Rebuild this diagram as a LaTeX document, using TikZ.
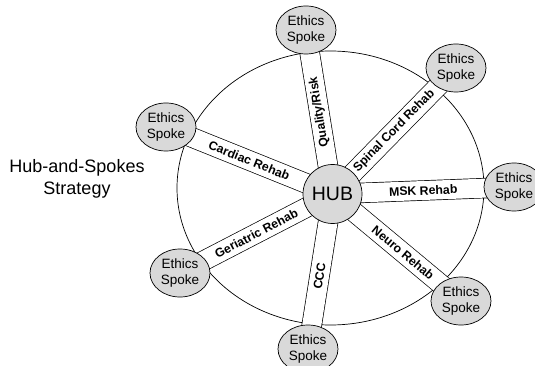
\documentclass[tikz,border=0pt]{standalone}
\usepackage{fontspec}
\setmainfont{Liberation Sans}
\usetikzlibrary{shapes.geometric,backgrounds}
\tikzset{
  spoke/.style={ellipse, draw, line width=0.7pt, fill=gray!30, minimum width=60pt, minimum height=48pt, inner sep=0pt, align=center, font=\fontsize{13.5}{16.5}\selectfont},
  hubnode/.style={circle, draw, line width=0.7pt, fill=gray!30, minimum size=59pt, inner sep=0pt, font=\fontsize{19.5}{22}\selectfont},
  band/.style={line width=0.7pt, double=white, double distance=19pt},
  bandlabel/.style={sloped, allow upside down, pos=0.5, inner sep=0pt, font=\fontsize{12.3}{13}\selectfont\bfseries},
  title/.style={align=center, font=\fontsize{18}{21.5}\selectfont}
}
\begin{document}
\begin{tikzpicture}[x=1pt,y=-1pt]
\useasboundingbox (0,0) rectangle (535,366);
\node[hubnode] (hub) at (332.5,194) {HUB};
\node[spoke] (s1) at (306,30) {Ethics\\Spoke};
\node[spoke] (s2) at (456,68) {Ethics\\Spoke};
\node[spoke] (s3) at (166,127) {Ethics\\Spoke};
\node[spoke] (s4) at (514,187) {Ethics\\Spoke};
\node[spoke] (s5) at (180,273) {Ethics\\Spoke};
\node[spoke] (s6) at (461,301) {Ethics\\Spoke};
\node[spoke] (s7) at (308,349) {Ethics\\Spoke};
\node[title] (t) at (77,179) {Hub-and-Spokes\\Strategy};
\begin{scope}[on background layer]
  \draw[line width=0.7pt] (330.5,188) ellipse [x radius=153.5, y radius=137];
  \draw[band] (hub.center) -- (s1.center);
  \draw[band] (hub.center) -- (s2.center);
  \draw[band] (s3.center) -- (hub.center);
  \draw[band] (hub.center) -- (s4.center);
  \draw[band] (s5.center) -- (hub.center);
  \draw[band] (hub.center) -- (s6.center);
  \draw[band] (s7.center) -- (hub.center);
  \path (hub.center) -- node[bandlabel] {Quality/Risk} (s1.center);
  \path (hub.center) -- node[bandlabel] {Spinal Cord Rehab} (s2.center);
  \path (s3.center) -- node[bandlabel] {Cardiac Rehab} (hub.center);
  \path (hub.center) -- node[bandlabel] {MSK Rehab} (s4.center);
  \path (s5.center) -- node[bandlabel] {Geriatric Rehab} (hub.center);
  \path (hub.center) -- node[bandlabel, pos=0.55] {Neuro Rehab} (s6.center);
  \path (s7.center) -- node[bandlabel, pos=0.47] {CCC} (hub.center);
\end{scope}
\end{tikzpicture}
\end{document}
